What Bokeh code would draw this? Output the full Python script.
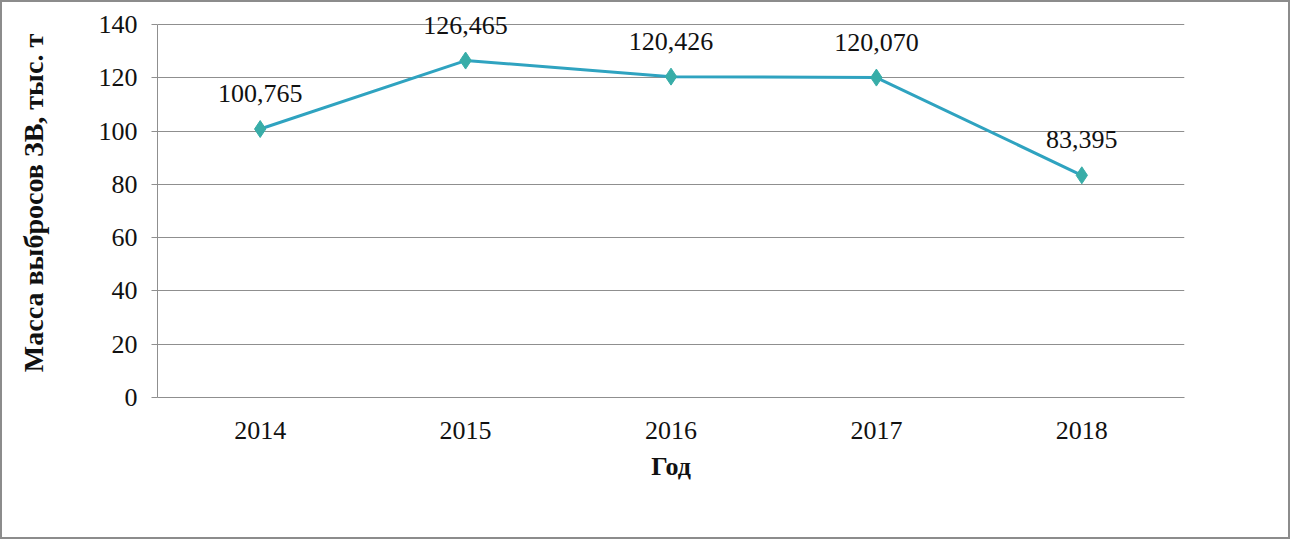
from bokeh.plotting import figure
from bokeh.models import ColumnDataSource, FixedTicker, LabelSet
from bokeh.embed import file_html
from bokeh.resources import INLINE

years = ["2014", "2015", "2016", "2017", "2018"]
emissions = [100.765, 126.465, 120.426, 120.070, 83.395]
labels = ["100,765", "126,465", "120,426", "120,070", "83,395"]
y_ticks = [0, 20, 40, 60, 80, 100, 120, 140]

FONT = "Liberation Serif"
FS = "26px"

src = ColumnDataSource(dict(x=years, y=emissions, lab=labels))

# y range extends a little above 140 so the top data label is not clipped;
# the axis line itself is bounded to 0..140 as in the reference
p = figure(x_range=years, y_range=(0, 146), width=1290, height=539,
           output_backend="svg", toolbar_location=None,
           min_border_left=155, min_border_right=108,
           min_border_top=6, min_border_bottom=144)
p.styles = {"border": "2px solid #8c8c8c", "box-sizing": "border-box"}
p.outline_line_color = None
p.background_fill_color = "white"

p.line("x", "y", source=src, line_color="#2fa3c0", line_width=3)
p.scatter("x", "y", source=src, marker="diamond", size=17,
          fill_color="#38ada8", line_color="#38ada8")
lbl = LabelSet(x="x", y="y", text="lab", source=src, text_font=FONT,
               text_font_size=FS, text_align="center",
               text_baseline="alphabetic", y_offset=27, text_color="#111111")
p.add_layout(lbl)

p.yaxis.ticker = FixedTicker(ticks=y_ticks)
p.yaxis.bounds = (0, 140)
p.ygrid.ticker = FixedTicker(ticks=y_ticks)
p.ygrid.grid_line_color = "#8f8f8f"
p.ygrid.grid_line_width = 1
p.xgrid.grid_line_color = None

for ax in (p.xaxis, p.yaxis):
    ax.major_label_text_font = FONT
    ax.major_label_text_font_size = FS
    ax.major_label_text_color = "#111111"
    ax.axis_label_text_font = FONT
    ax.axis_label_text_font_size = FS
    ax.axis_label_text_font_style = "bold"
    ax.axis_label_text_color = "#111111"
    ax.axis_line_color = "#8f8f8f"
    ax.minor_tick_line_color = None

p.yaxis.axis_label = "Масса выбросов ЗВ, тыс. т"
p.yaxis.axis_label_text_font_size = "28px"
p.yaxis.major_tick_out = 6
p.yaxis.major_tick_in = 0
p.yaxis.major_tick_line_color = "#8f8f8f"
p.yaxis.major_label_standoff = 14
p.yaxis.axis_label_standoff = 47

p.xaxis.axis_label = "Год"
p.xaxis.major_tick_line_color = None
p.xaxis.major_label_standoff = 18
p.xaxis.axis_label_standoff = 10

open("out.html", "w").write(file_html(p, INLINE))
